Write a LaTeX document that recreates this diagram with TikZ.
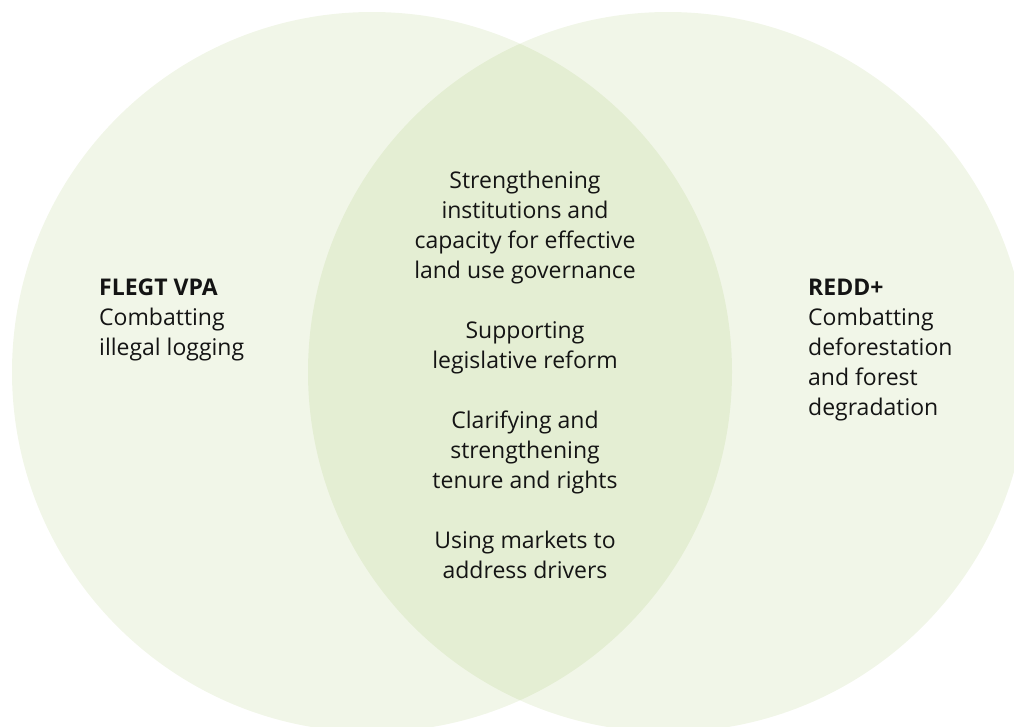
\documentclass[tikz,border=0pt]{standalone}
\usepackage{fontspec}
\setmainfont{Open Sans}
\usepackage{tikz}

\definecolor{vennGreen}{RGB}{115,165,25}
\definecolor{vennText}{RGB}{20,20,20}

\begin{document}
\begin{tikzpicture}[x=1pt, y=-1pt,
  disc/.style={fill=vennGreen, fill opacity=0.1, draw=none},
  vtext/.style={font=\fontsize{23}{30}\selectfont, text=vennText, inner sep=0pt}]

% Page frame
\useasboundingbox (0,0) rectangle (1014,726);
\clip (0,0) rectangle (1014,726);

% Radius and centres
\def \R{360}
\coordinate (cl) at (372,372);
\coordinate (cr) at (668,372);

% Draw the two discs
\fill [disc] (cl) circle (\R);
\fill [disc] (cr) circle (\R);

% Labels of the two sides (base = last line)
\node [vtext, anchor=base west, align=left] (flegt) at (99,355)
  {\textbf{FLEGT VPA}\\Combatting\\illegal logging};
\node [vtext, anchor=base west, align=left] (redd) at (808,415)
  {\textbf{REDD+}\\Combatting\\deforestation\\and forest\\degradation};

% Shared ground
\node [vtext, anchor=base, align=center] (shared) at (525,578)
  {Strengthening\\institutions and\\capacity for effective\\land use governance\\[30pt]
   Supporting\\legislative reform\\[30pt]
   Clarifying and\\strengthening\\tenure and rights\\[30pt]
   Using markets to\\address drivers};

\end{tikzpicture}
\end{document}
